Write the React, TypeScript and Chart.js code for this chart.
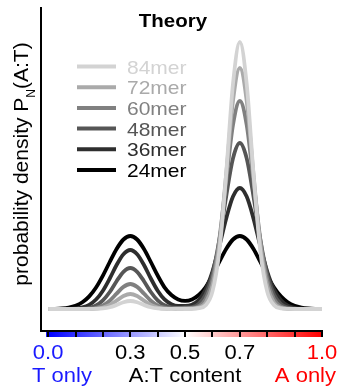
import React, { useEffect, useRef } from "react";
import { Chart, registerables } from "chart.js";

Chart.register(...registerables);

// A:T content grid (fraction of A)
const AT_CONTENT = [
  0, 0.025, 0.05, 0.075, 0.1, 0.125, 0.15, 0.175, 0.2, 0.225, 0.25, 0.275, 0.3, 0.325, 0.35, 0.375,
  0.4, 0.425, 0.45, 0.475, 0.5, 0.525, 0.55, 0.575, 0.6, 0.625, 0.65, 0.675, 0.7, 0.725, 0.75,
  0.775, 0.8, 0.825, 0.85, 0.875, 0.9, 0.925, 0.95, 0.975, 1.0,
];

// probability density (arbitrary units)
const MER84 = [0, 0, 0, 0, 0, 0, 0.02, 0.11, 0.52, 1.72, 4.04, 6.75, 8, 6.75, 4.04, 1.72, 0.52, 0.11, 0.02, 0.1, 0.15, 0.2, 0.8, 3.74, 17.4, 57.5, 134.9, 225.1, 267, 225.1, 134.9, 57.5, 17.4, 3.74, 0.57, 0.06, 0, 0, 0, 0, 0];
const MER72 = [0, 0, 0, 0, 0, 0, 0.08, 0.39, 1.44, 4.02, 8.35, 12.96, 15, 12.96, 8.35, 4.02, 1.44, 0.39, 0.2, 0.3, 0.4, 0.5, 1.5, 6.19, 23.2, 64.5, 134.2, 208.2, 241, 208.2, 134.2, 64.5, 23.2, 6.19, 1.24, 0.19, 0, 0, 0, 0, 0];
const MER60 = [0, 0, 0, 0, 0, 0.06, 0.31, 1.18, 3.55, 8.3, 15.3, 22.1, 25, 22.1, 15.3, 8.3, 3.55, 1.3, 0.6, 0.6, 0.8, 1.0, 2.8, 9.84, 29.5, 69.3, 127.7, 184.1, 208, 184.1, 127.7, 69.3, 29.5, 9.84, 2.57, 0.53, 0.08, 0, 0, 0, 0];
const MER48 = [0, 0, 0, 0, 0.08, 0.34, 1.22, 3.58, 8.6, 17.0, 27.8, 37.2, 41, 37.2, 27.8, 17.0, 8.6, 3.7, 1.6, 1.2, 1.5, 2.0, 5.2, 14.5, 34.9, 69.0, 112.4, 150.6, 166, 150.6, 112.4, 69.0, 34.9, 14.5, 4.95, 1.39, 0.32, 0.06, 0, 0, 0];
const MER36 = [0, 0, 0.04, 0.16, 0.54, 1.63, 4.22, 9.45, 18.3, 30.5, 44.0, 54.8, 59, 54.8, 44.0, 30.5, 18.3, 9.6, 4.8, 3.0, 3.0, 4.2, 9.0, 19.4, 37.5, 62.6, 90.3, 112.4, 121, 112.4, 90.3, 62.6, 37.5, 19.4, 8.65, 3.34, 1.11, 0.32, 0.08, 0.02, 0];
const MER24 = [0.1, 0.2, 0.55, 1.4, 3.2, 6.7, 12.6, 21.5, 33.4, 47.0, 60.0, 69.5, 73, 69.5, 60.0, 47.0, 33.5, 21.7, 14.0, 9.6, 8.2, 9.6, 14.0, 21.7, 33.5, 47.0, 60.0, 69.5, 73, 69.5, 60.0, 47.0, 33.4, 21.5, 12.6, 6.7, 3.2, 1.4, 0.55, 0.2, 0.1];

const SERIES_NAMES = ["84mer", "72mer", "60mer", "48mer", "36mer", "24mer"];
const SERIES_DATA = [MER84, MER72, MER60, MER48, MER36, MER24];
const SERIES_COLORS = ["#d3d3d3", "#aaaaaa", "#808080", "#565656", "#2e2e2e", "#000000"];

const TICK_VALUES = [0, 0.3, 0.5, 0.7, 1.0];
const TICK_LABELS = ["0.0", "0.3", "0.5", "0.7", "1.0"];
const MINOR_TICKS = [0, 0.1, 0.2, 0.3, 0.4, 0.5, 0.6, 0.7, 0.8, 0.9, 1.0];

const TITLE = "Theory";
const Y_LABEL_MAIN = "probability density P";
const Y_LABEL_SUB = "N";
const Y_LABEL_END = "(A:T)";
const X_LABEL_LEFT = "T only";
const X_LABEL_MID = "A:T content";
const X_LABEL_RIGHT = "A only";

const FONT = "'Liberation Sans', Arial, sans-serif";
const SQ = 0.9;

function sText(ctx: CanvasRenderingContext2D, text: string, x: number, y: number, align: CanvasTextAlign, font: string, color: string) {
  ctx.save();
  ctx.font = font;
  ctx.fillStyle = color;
  ctx.textAlign = align;
  ctx.textBaseline = "alphabetic";
  ctx.translate(x, y);
  ctx.scale(1, SQ);
  ctx.fillText(text, 0, 0);
  ctx.restore();
}

const overlay = {
  id: "overlay",
  afterDraw(chart: any) {
    const ctx: CanvasRenderingContext2D = chart.ctx;
    const xs = chart.scales.x;
    const area = chart.chartArea;
    ctx.save();
    // gradient bar
    const x0 = xs.getPixelForValue(0);
    const x1 = xs.getPixelForValue(1);
    const g = ctx.createLinearGradient(x0, 0, x1, 0);
    g.addColorStop(0, "rgb(0,0,255)");
    g.addColorStop(0.5, "rgb(255,255,255)");
    g.addColorStop(1, "rgb(255,0,0)");
    ctx.fillStyle = g;
    ctx.fillRect(x0 - 2, area.bottom, x1 - x0 + 3, 7);
    // minor ticks
    ctx.strokeStyle = "#000";
    ctx.lineWidth = 2;
    for (const v of MINOR_TICKS) {
      const px = Math.round(xs.getPixelForValue(v));
      ctx.beginPath();
      ctx.moveTo(px, area.bottom);
      ctx.lineTo(px, area.bottom + 7);
      ctx.stroke();
    }
    // axes
    ctx.beginPath();
    ctx.moveTo(area.left, area.top);
    ctx.lineTo(area.left, area.bottom + 1);
    ctx.lineTo(area.right, area.bottom + 1);
    ctx.stroke();

    // tick labels
    const tickFont = `22px ${FONT}`;
    TICK_VALUES.forEach((v, i) => {
      const col = v === 0 ? "#1a1aff" : v === 1 ? "#ff0000" : "#000000";
      sText(ctx, TICK_LABELS[i], xs.getPixelForValue(v), 359, "center", tickFont, col);
    });
    sText(ctx, X_LABEL_LEFT, 32, 382, "left", tickFont, "#1a1aff");
    sText(ctx, X_LABEL_MID, xs.getPixelForValue(0.5), 382, "center", tickFont, "#000000");
    sText(ctx, X_LABEL_RIGHT, 336, 382, "right", tickFont, "#ff0000");

    // title
    sText(ctx, TITLE, 173, 27, "center", `bold 20.5px ${FONT}`, "#000000");

    // legend
    const legFont = `21px ${FONT}`;
    SERIES_NAMES.forEach((name, i) => {
      const ly = 66.5 + i * 20.7;
      ctx.strokeStyle = SERIES_COLORS[i];
      ctx.lineWidth = 4;
      ctx.beginPath();
      ctx.moveTo(77, ly);
      ctx.lineTo(116, ly);
      ctx.stroke();
      sText(ctx, name, 127, ly + 7, "left", legFont, SERIES_COLORS[i]);
    });

    // y label
    ctx.save();
    ctx.translate(27.5, 164);
    ctx.rotate(-Math.PI / 2);
    ctx.fillStyle = "#000";
    ctx.textBaseline = "alphabetic";
    ctx.textAlign = "left";
    ctx.font = `21px ${FONT}`;
    const w1 = ctx.measureText(Y_LABEL_MAIN).width;
    const w3 = ctx.measureText(Y_LABEL_END).width;
    ctx.font = `12px ${FONT}`;
    const w2 = ctx.measureText(Y_LABEL_SUB).width;
    const total = w1 + w2 + w3;
    const sx = -total / 2;
    ctx.font = `21px ${FONT}`;
    ctx.fillText(Y_LABEL_MAIN, sx, 0);
    ctx.font = `12px ${FONT}`;
    ctx.fillText(Y_LABEL_SUB, sx + w1, 7);
    ctx.font = `21px ${FONT}`;
    ctx.fillText(Y_LABEL_END, sx + w1 + w2, 0);
    ctx.restore();

    ctx.restore();
  },
};

export default function App() {
  const ref = useRef<HTMLCanvasElement | null>(null);
  useEffect(() => {
    document.body.style.margin = "0";
    if (!ref.current) return;
    const chart = new Chart(ref.current, {
      type: "line",
      data: {
        datasets: SERIES_NAMES.map((name, i) => ({
          label: name,
          data: AT_CONTENT.map((x, j) => ({ x, y: SERIES_DATA[i][j] })),
          borderColor: SERIES_COLORS[i],
          borderWidth: 3.8,
          pointRadius: 0,
          fill: false,
          cubicInterpolationMode: "monotone" as const,
        })),
      },
      options: {
        animation: false,
        responsive: false,
        devicePixelRatio: 1,
        layout: { padding: { left: 41, top: 7, right: 16, bottom: 62 } },
        plugins: { legend: { display: false }, tooltip: { enabled: false }, title: { display: false } },
        scales: {
          x: { type: "linear", min: -0.026, max: 1.0, display: false },
          y: { type: "linear", min: -21, max: 302, display: false },
        },
      },
      plugins: [overlay],
    });
    return () => chart.destroy();
  }, []);
  return (
    <div style={{ width: 338, height: 392 }}>
      <canvas ref={ref} width={338} height={392} />
    </div>
  );
}
